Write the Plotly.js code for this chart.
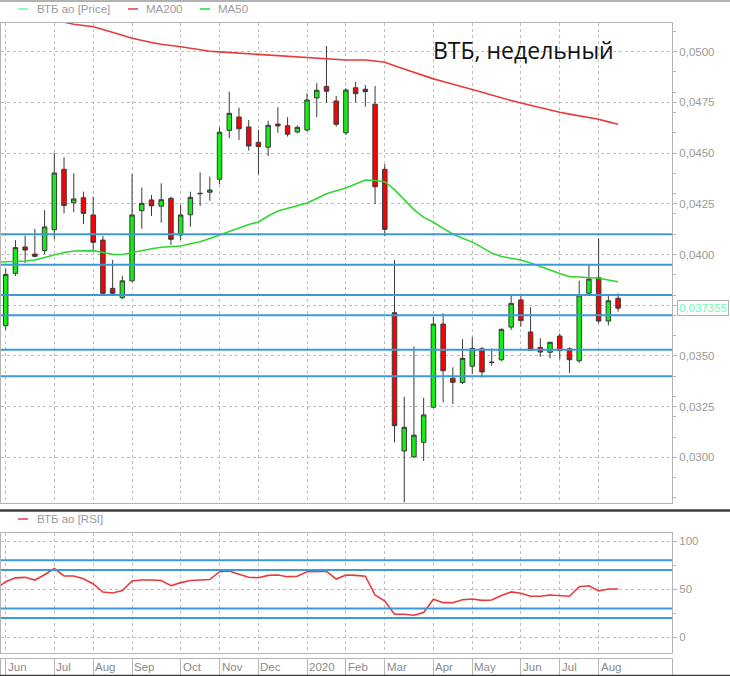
<!DOCTYPE html>
<html>
<head>
<meta charset="utf-8">
<script src="https://cdn.plot.ly/plotly-3.0.1.min.js"></script>
<style>
html,body{margin:0;padding:0;background:#fff;}
#chart{width:730px;height:676px;}
</style>
</head>
<body>
<div id="chart"></div>
<script>
// ---- DATA ----
const weeks = [
"2019-05-26","2019-06-02","2019-06-09","2019-06-16","2019-06-23","2019-06-30",
"2019-07-07","2019-07-14","2019-07-21","2019-07-28",
"2019-08-04","2019-08-11","2019-08-18","2019-08-25",
"2019-09-01","2019-09-08","2019-09-15","2019-09-22","2019-09-29",
"2019-10-06","2019-10-13","2019-10-20","2019-10-27",
"2019-11-03","2019-11-10","2019-11-17","2019-11-24",
"2019-12-01","2019-12-08","2019-12-15","2019-12-22","2019-12-29",
"2020-01-05","2020-01-12","2020-01-19","2020-01-26",
"2020-02-02","2020-02-09","2020-02-16","2020-02-23",
"2020-03-01","2020-03-08","2020-03-15","2020-03-22","2020-03-29",
"2020-04-05","2020-04-12","2020-04-19","2020-04-26",
"2020-05-03","2020-05-10","2020-05-17","2020-05-24","2020-05-31",
"2020-06-07","2020-06-14","2020-06-21","2020-06-28",
"2020-07-05","2020-07-12","2020-07-19","2020-07-26",
"2020-08-02","2020-08-09","2020-08-16"];

const openP = [null,
0.03649,0.03907,0.04037,0.04002,0.04019,0.04122,0.04420,0.04255,0.04280,0.04195,
0.04071,0.03833,0.03787,0.03870,0.04216,0.04269,0.04238,0.04277,0.04096,0.04196,
0.04302,0.04307,0.04371,0.04612,0.04678,0.04629,0.04553,0.04529,0.04643,0.04635,
0.04604,0.04614,0.04772,0.04829,0.04757,0.04600,0.04822,0.04815,0.04741,0.04420,
0.03713,0.03031,0.03003,0.03074,0.03247,0.03657,0.03390,0.03369,0.03449,0.03535,
0.03467,0.03481,0.03642,0.03776,0.03618,0.03542,0.03518,0.03598,0.03535,0.03476,
0.03809,0.03886,0.03672,0.03784];

const highP = [null,
0.03932,0.04071,0.04093,0.04126,0.04219,0.04502,0.04479,0.04400,0.04310,0.04285,
0.04091,0.03973,0.03895,0.04397,0.04330,0.04293,0.04351,0.04285,0.04244,0.04310,
0.04405,0.04384,0.04627,0.04803,0.04724,0.04663,0.04614,0.04660,0.04726,0.04677,
0.04637,0.04795,0.04844,0.05028,0.04782,0.04820,0.04852,0.04836,0.04831,0.04445,
0.03973,0.03299,0.03546,0.03294,0.03693,0.03710,0.03444,0.03582,0.03592,0.03545,
0.03537,0.03635,0.03800,0.03800,0.03740,0.03587,0.03570,0.03611,0.03542,0.03871,
0.03953,0.04080,0.03800,0.03809];

const lowP = [null,
0.03628,0.03894,0.03958,0.03985,0.04002,0.04075,0.04203,0.04208,0.04150,0.04022,
0.03800,0.03804,0.03780,0.03865,0.04127,0.04190,0.04157,0.04047,0.04071,0.04137,
0.04239,0.04265,0.04346,0.04573,0.04565,0.04512,0.04395,0.04486,0.04600,0.04581,
0.04598,0.04606,0.04677,0.04749,0.04630,0.04589,0.04749,0.04729,0.04249,0.04091,
0.03074,0.02778,0.02997,0.02982,0.03242,0.03271,0.03263,0.03361,0.03411,0.03394,
0.03452,0.03475,0.03628,0.03644,0.03526,0.03496,0.03488,0.03483,0.03417,0.03466,
0.03805,0.03660,0.03651,0.03718];

const closeP = [null,
0.03902,0.04034,0.04022,0.03991,0.04136,0.04402,0.04241,0.04274,0.04203,0.04060,
0.03809,0.03809,0.03870,0.04195,0.04252,0.04240,0.04270,0.04075,0.04195,0.04282,
0.04300,0.04318,0.04603,0.04696,0.04620,0.04535,0.04532,0.04637,0.04634,0.04593,
0.04627,0.04762,0.04810,0.04805,0.04642,0.04811,0.04793,0.04803,0.04334,0.04124,
0.03156,0.03148,0.03109,0.03209,0.03657,0.03427,0.03370,0.03488,0.03537,0.03421,
0.03469,0.03631,0.03759,0.03674,0.03529,0.03519,0.03567,0.03526,0.03481,0.03800,
0.03879,0.03672,0.03772,0.037355];

const ma200 = [0.05222,
0.05211,0.05199,0.05188,0.05177,0.05166,0.05155,0.05144,0.05135,0.05129,0.05123,
0.05109,0.05096,0.05081,0.05066,0.05055,0.05045,0.05037,0.05029,0.05024,0.05017,
0.05010,0.05002,0.04999,0.04996,0.04993,0.04990,0.04988,0.04984,0.04980,0.04977,
0.04973,0.04970,0.04967,0.04964,0.04962,0.04959,0.04959,0.04959,0.04954,0.04948,
0.04931,0.04914,0.04897,0.04880,0.04866,0.04853,0.04841,0.04827,0.04814,0.04800,
0.04786,0.04771,0.04759,0.04747,0.04735,0.04723,0.04712,0.04701,0.04692,0.04683,
0.04675,0.04667,0.04654,0.04642];

const ma50 = [0.03962,
0.03963,0.03965,0.03968,0.03973,0.03985,0.03998,0.04010,0.04017,0.04019,0.04019,
0.04010,0.04001,0.04000,0.04010,0.04020,0.04028,0.04036,0.04039,0.04042,0.04053,
0.04063,0.04079,0.04096,0.04114,0.04133,0.04148,0.04160,0.04190,0.04214,0.04227,
0.04242,0.04254,0.04276,0.04300,0.04314,0.04328,0.04348,0.04367,0.04365,0.04359,
0.04320,0.04271,0.04221,0.04183,0.04159,0.04129,0.04101,0.04080,0.04061,0.04035,
0.04007,0.03990,0.03980,0.03973,0.03958,0.03942,0.03924,0.03906,0.03891,0.03889,
0.03887,0.03883,0.03874,0.03866];

const rsi = [50.1,
57.8,61.8,62.3,59.5,65.0,71.5,63.7,63.7,60.8,55.4,
47.0,46.0,48.5,58.5,59.5,59.5,59.0,53.6,56.8,59.0,
59.5,60.0,68.2,68.9,65.6,62.4,61.9,64.3,64.7,63.0,
63.5,68.1,68.5,68.5,60.5,64.7,64.3,63.5,43.9,37.6,
23.9,23.9,22.9,25.8,39.6,36.0,35.9,39.0,39.8,38.4,
38.7,43.5,47.2,45.7,42.6,42.6,43.9,42.9,42.6,52.5,
53.5,48.1,50.2,50.2];

const priceLevels = [0.0410, 0.0395, 0.0380, 0.0370, 0.0353, 0.0340];
const rsiLevels = [80, 70, 30, 20];

// price axis ticks (label of 0,0375 is covered by the last-price box in the reference)
const priceTicks = [0.0300, 0.0325, 0.0350, 0.0375, 0.0400, 0.0425, 0.0450, 0.0475, 0.0500];
const priceTickLabels = ["0,0300", "0,0325", "0,0350", "", "0,0400", "0,0425", "0,0450", "0,0475", "0,0500"];
const rsiTicks = [0, 50, 100];
const rsiTickLabels = ["0", "50", "100"];

const monthTicks = ["2019-06-02","2019-07-07","2019-08-04","2019-09-01","2019-10-06",
"2019-11-03","2019-12-01","2020-01-05","2020-02-02","2020-03-01","2020-04-05",
"2020-05-03","2020-06-07","2020-07-05","2020-08-02"];
const monthLabels = ["Jun","Jul","Aug","Sep","Oct","Nov","Dec","2020","Feb","Mar",
"Apr","May","Jun","Jul","Aug"];

const titleText = "ВТБ, недельный";
const priceName = "ВТБ ао [Price]";
const ma200Name = "MA200";
const ma50Name = "MA50";
const rsiName = "ВТБ ао [RSI]";

// ---- LAYOUT HELPERS ----
const W = 730, H = 676, ML = 1, MR = 58;
const PW = W - ML - MR;
const px = v => (v - ML) / PW;
const py = v => 1 - v / H;

const FONT = "Liberation Sans, Arial, sans-serif";
const GRAY = "#9a9a9a";
const AXC = "#b4b4b4";
const GRID = "#bdbdbd";
const BLUE = "#3b9bd6";
const PRICEC = "#66ffaa";
const RED = "#e83a3a";
const GREEN = "#2ed82e";

const xRange = ["2019-05-29 14:40", "2020-09-23 20:00"];

const traces = [
  {
    type: "candlestick", x: weeks, open: openP, high: highP, low: lowP, close: closeP,
    xaxis: "x", yaxis: "y", showlegend: false, whiskerwidth: 0,
    increasing: {line: {color: "#3a3a3a", width: 1}, fillcolor: "#12f012"},
    decreasing: {line: {color: "#3a3a3a", width: 1}, fillcolor: "#ff0000"},
    hoverinfo: "skip"
  },
  {type: "scatter", mode: "lines", x: weeks, y: ma200, name: ma200Name, xaxis: "x", yaxis: "y",
   line: {color: RED, width: 1.6}, showlegend: false, hoverinfo: "skip"},
  {type: "scatter", mode: "lines", x: weeks, y: ma50, name: ma50Name, xaxis: "x", yaxis: "y",
   line: {color: GREEN, width: 1.6}, showlegend: false, hoverinfo: "skip"},
  {type: "scatter", mode: "lines", x: weeks, y: rsi, name: rsiName, xaxis: "x2", yaxis: "y2",
   line: {color: RED, width: 1.6}, showlegend: false, hoverinfo: "skip"},
  {type: "scatter", mode: "lines", x: [], y: [], xaxis: "x3", yaxis: "y3",
   showlegend: false, hoverinfo: "skip"}
];

const shapes = [];
priceLevels.forEach(v => shapes.push({type: "line", xref: "x domain", yref: "y", x0: 0, x1: 1, y0: v, y1: v,
  line: {color: BLUE, width: 2}}));
rsiLevels.forEach(v => shapes.push({type: "line", xref: "x2 domain", yref: "y2", x0: 0, x1: 1, y0: v, y1: v,
  line: {color: BLUE, width: 2}}));
// frame separators
[[1, 0.8], [510.5, 2.5], [675.5, 1.5]].forEach(([yy, w]) => shapes.push({type: "line", xref: "paper", yref: "paper",
  x0: px(0), x1: px(730), y0: py(yy), y1: py(yy), line: {color: "#3c3c3c", width: w}}));
// legend line samples
const legendSamples = [[18, 28, 9, PRICEC], [128, 138, 9, RED], [200, 210, 9, GREEN], [18, 28, 519, RED]];
legendSamples.forEach(([a, b, yy, c]) => shapes.push({type: "line", xref: "paper", yref: "paper",
  x0: px(a), x1: px(b), y0: py(yy), y1: py(yy), line: {color: c, width: 1.5}}));

const annotations = [];
const legendTexts = [[36, 9, priceName], [145, 9, ma200Name], [217, 9, ma50Name], [36, 519, rsiName]];
legendTexts.forEach(([xx, yy, t]) => annotations.push({xref: "paper", yref: "paper", x: px(xx), y: py(yy),
  xanchor: "left", yanchor: "middle", text: t, showarrow: false, borderpad: 0,
  font: {family: FONT, size: 11.5, color: GRAY}}));
annotations.push({xref: "paper", yref: "paper", x: px(523), y: py(50.5), xanchor: "center", yanchor: "middle",
  text: titleText, showarrow: false, font: {family: "Open Sans, Noto Sans, sans-serif", size: 23, color: "#111"}});
const lastClose = closeP[closeP.length - 1];
annotations.push({xref: "paper", yref: "y", x: px(676.5), y: lastClose, xanchor: "left", yanchor: "middle",
  text: String(lastClose).replace(".", ","), showarrow: false, bgcolor: "#ffffff", bordercolor: "#b0b0b0",
  borderwidth: 1, borderpad: 1, font: {family: FONT, size: 11.5, color: PRICEC}});
monthTicks.forEach((d, k) => annotations.push({xref: "x3", yref: "paper", x: d, y: py(667), xanchor: "left",
  yanchor: "middle", xshift: 1, text: monthLabels[k], showarrow: false, borderpad: 0,
  font: {family: FONT, size: 11.5, color: "#8a8a8a"}}));

const xCommon = {
  type: "date", range: xRange, tickvals: monthTicks, ticktext: monthLabels,
  showticklabels: false, ticks: "", showline: true, mirror: true, linecolor: AXC, linewidth: 1,
  zeroline: false, fixedrange: true
};

const layout = {
  width: W, height: H,
  margin: {l: ML, r: MR, t: 0, b: 0, pad: 0},
  paper_bgcolor: "#ffffff", plot_bgcolor: "#ffffff",
  separators: ", ",
  boxgap: 0.34,
  showlegend: false,
  font: {family: FONT, size: 11.5, color: GRAY},
  xaxis: Object.assign({}, xCommon, {anchor: "y", showgrid: true, gridcolor: GRID, griddash: "dot", gridwidth: 1,
    rangeslider: {visible: false}}),
  xaxis2: Object.assign({}, xCommon, {anchor: "y2", matches: "x", showgrid: true, gridcolor: GRID, griddash: "dot"}),
  xaxis3: Object.assign({}, xCommon, {anchor: "y3", matches: "x", showgrid: true, gridcolor: "#b8b8b8", griddash: "solid"}),
  yaxis: {
    domain: [py(503.3), py(23)], anchor: "x", side: "right",
    range: [0.027732, 0.051415], tickmode: "array", tickvals: priceTicks, ticktext: priceTickLabels,
    showgrid: true, gridcolor: GRID, griddash: "dot",
    ticks: "outside", ticklen: 4, tickcolor: AXC,
    minor: {dtick: 0.001, tick0: 0, ticks: "outside", ticklen: 3, tickcolor: AXC, showgrid: false},
    showline: true, mirror: true, linecolor: AXC, zeroline: false,
    tickfont: {family: FONT, size: 11.5, color: GRAY}, fixedrange: true
  },
  yaxis2: {
    domain: [py(652.5), py(532.7)], anchor: "x2", side: "right",
    range: [-15.8, 108.7], tickmode: "array", tickvals: rsiTicks, ticktext: rsiTickLabels,
    showgrid: true, gridcolor: GRID, griddash: "dot",
    ticks: "outside", ticklen: 4, tickcolor: AXC,
    minor: {dtick: 25, tick0: 0, ticks: "outside", ticklen: 3, tickcolor: AXC, showgrid: false},
    showline: true, mirror: true, linecolor: AXC, zeroline: false,
    tickfont: {family: FONT, size: 11.5, color: GRAY}, fixedrange: true
  },
  yaxis3: {
    domain: [py(674.5), py(659.3)], anchor: "x3", range: [0, 1],
    showgrid: false, showticklabels: false, ticks: "", zeroline: false,
    showline: true, mirror: true, linecolor: AXC, fixedrange: true
  },
  shapes: shapes,
  annotations: annotations
};

Plotly.newPlot("chart", traces, layout, {displayModeBar: false, staticPlot: true});
</script>
</body>
</html>
